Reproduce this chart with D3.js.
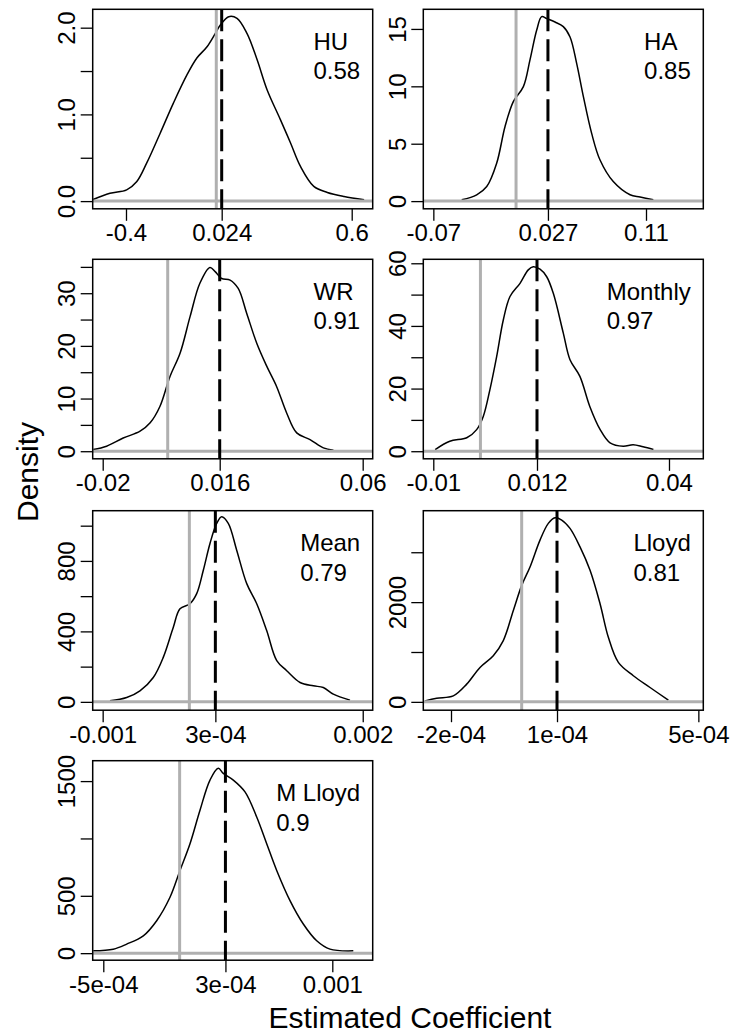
<!DOCTYPE html>
<html>
<head>
<meta charset="utf-8">
<script src="https://cdn.jsdelivr.net/npm/d3@7"></script>
<style>
  body { margin: 0; background: #fff; }
  text { font-family: "Liberation Sans", Arial, sans-serif; fill: #000; }
</style>
</head>
<body>
<div id="chart"></div>
<script>
// panel labels and scores
var panelNames = ["HU", "HA", "WR", "Monthly", "Mean", "Lloyd", "M Lloyd"];
var panelScores = ["0.58", "0.85", "0.91", "0.97", "0.79", "0.81", "0.9"];
var estimates = [0.024, 0.027, 0.016, 0.012, 3e-4, 1e-4, 3e-4];

// tick values + labels (as printed by R)
var xTickValues = [[-0.4, 0.024, 0.6], [-0.07, 0.027, 0.11], [-0.02, 0.016, 0.06], [-0.01, 0.012, 0.04],
                   [-0.001, 3e-4, 0.002], [-2e-4, 1e-4, 5e-4], [-5e-4, 3e-4, 0.001]];
var xTickLabels = [["-0.4", "0.024", "0.6"], ["-0.07", "0.027", "0.11"], ["-0.02", "0.016", "0.06"], ["-0.01", "0.012", "0.04"],
                   ["-0.001", "3e-04", "0.002"], ["-2e-04", "1e-04", "5e-04"], ["-5e-04", "3e-04", "0.001"]];
var yTickValues = [[0, 0.5, 1, 1.5, 2], [0, 5, 10, 15], [0, 5, 10, 15, 20, 25, 30, 35], [0, 10, 20, 30, 40, 50, 60],
                   [0, 200, 400, 600, 800, 1000], [0, 1000, 2000, 3000], [0, 500, 1000, 1500]];
var yTickLabels = [["0.0", "", "1.0", "", "2.0"], ["0", "5", "10", "15"], ["0", "", "10", "", "20", "", "30", ""],
                   ["0", "", "20", "", "40", "", "60"], ["0", "", "400", "", "800", ""], ["0", "", "2000", ""],
                   ["0", "500", "", "1500"]];

// density curves
var huX = [-0.548, -0.471, -0.397, -0.352, -0.308, -0.249, -0.19, -0.13, -0.086, -0.041, -0.004, 0.018, 0.055, 0.092, 0.136, 0.181, 0.225, 0.284, 0.329, 0.373, 0.432, 0.492, 0.566, 0.655];
var huY = [0.015, 0.09, 0.13, 0.226, 0.44, 0.78, 1.13, 1.455, 1.65, 1.78, 1.935, 2.03, 2.127, 2.108, 1.935, 1.63, 1.285, 0.94, 0.67, 0.40, 0.17, 0.10, 0.053, 0.015];

var haX = [-0.046, -0.0333, -0.0248, -0.0164, -0.0093, -0.0023, 0.0062, 0.0118, 0.0175, 0.0217, 0.026, 0.033, 0.040, 0.0457, 0.0513, 0.057, 0.064, 0.071, 0.0823, 0.0965, 0.105, 0.1162];
var haY = [0.11, 0.55, 1.27, 3.3, 6.5, 8.67, 9.97, 12.3, 14.9, 16.07, 15.9, 15.6, 15.2, 14.3, 12.0, 9.1, 5.9, 3.6, 1.7, 0.55, 0.35, 0.11];

var wrX = [-0.0229, -0.0188, -0.0137, -0.0085, -0.0054, -0.0024, 0.0007, 0.0038, 0.0069, 0.0099, 0.013, 0.0146, 0.0166, 0.0192, 0.0217, 0.0243, 0.0274, 0.0305, 0.0335, 0.0366, 0.0397, 0.0438, 0.0479, 0.051];
var wrY = [0.32, 0.95, 2.5, 3.8, 5.4, 8.5, 14.2, 18.6, 25.6, 31.9, 34.9, 34.1, 32.8, 32.5, 30.9, 26.2, 20.5, 16.1, 12.3, 7.27, 3.48, 2.2, 0.64, 0.2];

var monthlyX = [-0.0096, -0.0065, -0.0029, -0.0008, 0.0006, 0.002, 0.00345, 0.00485, 0.00627, 0.0084, 0.01015, 0.0112, 0.01264, 0.01406, 0.01546, 0.01758, 0.019, 0.0211, 0.0232, 0.0254, 0.0275, 0.0303, 0.0324, 0.0345, 0.0367];
var monthlyY = [0.54, 3.2, 4.3, 6.9, 11.1, 19.6, 30.3, 41.9, 49.4, 53.6, 57.9, 58.9, 58.1, 55.7, 50.4, 37.7, 29.2, 23.9, 14.3, 6.9, 2.67, 1.6, 2.1, 1.4, 0.54];

var meanX = [-0.000916, -0.000723, -0.00057, -0.000416, -0.000301, -0.000185, -0.000108, 0.0000073, 0.0000846, 0.000161, 0.000238, 0.000315, 0.000373, 0.000449, 0.000546, 0.000662, 0.000777, 0.000892, 0.001008, 0.001123, 0.001277, 0.00143, 0.001545, 0.001661, 0.001853];
var meanY = [5.7, 24.5, 62.7, 138.6, 252.6, 423.7, 528.5, 557, 614, 747, 899, 1013, 1051, 1013, 861, 671, 557, 405, 234, 177, 110, 91, 81.5, 43.9, 9.7];

var lloydX = [-0.0002736, -0.0002405, -0.0001935, -0.0001556, -0.0001179, -0.0000803, -0.000052, -0.0000236, 0.0000001, 0.0000236, 0.0000519, 0.0000754, 0.0000944, 0.0001133, 0.0001368, 0.0001651, 0.0001935, 0.0002218, 0.0002453, 0.0002736, 0.000316, 0.0003633, 0.0004151];
var lloydY = [20, 74, 121, 356, 691, 926, 1229, 1833, 2336, 2705, 3243, 3579, 3692, 3646, 3478, 3108, 2638, 1968, 1295, 792, 524, 288, 34];

var mLloydX = [-0.0005655, -0.0004345, -0.0003467, -0.000238, -0.0001502, -0.0000631, 0.0000024, 0.0000679, 0.0001334, 0.0001989, 0.0002533, 0.000286, 0.0003515, 0.0004282, 0.0005048, 0.0005703, 0.0006358, 0.0007229, 0.00081, 0.0008978, 0.0009849, 0.0011376];
var mLloydY = [20, 35, 79, 151, 283, 487, 721, 954, 1246, 1509, 1611, 1567, 1509, 1406, 1187, 954, 721, 458, 254, 108, 35, 20];

var curvesX = [huX, haX, wrX, monthlyX, meanX, lloydX, mLloydX];
var curvesY = [huY, haY, wrY, monthlyY, meanY, lloydY, mLloydY];

// axis ranges of each panel (R adds 4% around the data)
var xDomains = [[-0.5475, 0.693], [-0.0785, 0.1585], [-0.02308, 0.06308], [-0.01212, 0.04728],
                [-0.001115, 0.002115], [-2.784e-4, 5.14e-4], [-5.694e-4, 1.2646e-3]];
var yDomains = [[-0.0887, 2.212], [-0.67, 16.71], [-1.44, 36.44], [-2.42, 61.27],
                [-47.3, 1085], [-167, 3833], [-61.3, 1677.8]];

var W = 730, H = 1036;
var boxW = 280, boxH = 199.5;
var colLeft = [92.7, 423.3];
var rowTop = [9.3, 259.3, 510.7, 760.7];
var gray = "#b0b0b0";

var svg = d3.select("#chart").append("svg")
    .attr("width", W)
    .attr("height", H)
    .style("background", "#fff");

function drawPanel(i) {
    var left = colLeft[i % 2];
    var top = rowTop[Math.floor(i / 2)];
    var g = svg.append("g").attr("transform", `translate(${left},${top})`);

    var x = d3.scaleLinear().domain(xDomains[i]).range([0, boxW]);
    var y = d3.scaleLinear().domain(yDomains[i]).range([boxH, 0]);

    var pts = curvesX[i].map(function(d, j) { return [d, curvesY[i][j]]; });
    var line = d3.line()
        .x(function(d) { return x(d[0]); })
        .y(function(d) { return y(d[1]); })
        .curve(d3.curveCatmullRom.alpha(0.5));

    g.append("path")
        .datum(pts)
        .attr("d", line)
        .attr("fill", "none")
        .attr("stroke", "#000")
        .attr("stroke-width", 1.5);

    // zero lines
    g.append("line")
        .attr("x1", 0).attr("x2", boxW)
        .attr("y1", y(0)).attr("y2", y(0))
        .attr("stroke", gray).attr("stroke-width", 3);
    g.append("line")
        .attr("x1", x(0)).attr("x2", x(0))
        .attr("y1", 0).attr("y2", boxH)
        .attr("stroke", gray).attr("stroke-width", 3);

    // estimate
    g.append("line")
        .attr("x1", x(estimates[i])).attr("x2", x(estimates[i]))
        .attr("y1", 0).attr("y2", boxH)
        .attr("stroke", "#000").attr("stroke-width", 3)
        .attr("stroke-dasharray", "22,8");

    g.append("rect")
        .attr("width", boxW).attr("height", boxH)
        .attr("fill", "none").attr("stroke", "#000").attr("stroke-width", 1.5);

    var xAxis = d3.axisBottom(x)
        .tickValues(xTickValues[i])
        .tickFormat(function(d) { return xTickLabels[i][xTickValues[i].indexOf(d)]; })
        .tickSize(12)
        .tickPadding(3.5);
    var gx = g.append("g").attr("transform", `translate(0,${boxH})`).call(xAxis);
    gx.select(".domain").remove();
    gx.selectAll("line").attr("stroke", "#000").attr("stroke-width", 1.3);
    gx.selectAll("text").attr("font-size", 24).attr("font-family", null).attr("fill", "#000");
    gx.attr("font-family", null).attr("font-size", null);

    var yAxis = d3.axisLeft(y)
        .tickValues(yTickValues[i])
        .tickFormat(function(d) { return yTickLabels[i][yTickValues[i].indexOf(d)]; })
        .tickSize(12);
    var gy = g.append("g").call(yAxis);
    gy.select(".domain").remove();
    gy.attr("font-family", null).attr("font-size", null);
    gy.selectAll("line").attr("stroke", "#000").attr("stroke-width", 1.3);
    gy.selectAll("text")
        .attr("x", null).attr("dy", null)
        .attr("text-anchor", "middle")
        .attr("transform", "translate(-17.7,0) rotate(-90)")
        .attr("font-size", 24)
        .attr("fill", "#000");

    // legend in the top right corner
    var lab = g.append("g");
    var t1 = lab.append("text").attr("y", 40.5).attr("font-size", 24).text(panelNames[i]);
    var t2 = lab.append("text").attr("y", 70).attr("font-size", 24).text(panelScores[i]);
    var w = Math.max(t1.node().getComputedTextLength(), t2.node().getComputedTextLength());
    lab.attr("transform", `translate(${boxW - 12.5 - w},0)`);
}

for (var i = 0; i < panelNames.length; i++) drawPanel(i);

// outer axis titles
svg.append("text")
    .attr("x", 410)
    .attr("y", 1028)
    .attr("text-anchor", "middle")
    .attr("font-size", 30)
    .text("Estimated Coefficient");

svg.append("text")
    .attr("transform", "translate(38,472) rotate(-90)")
    .attr("text-anchor", "middle")
    .attr("font-size", 30)
    .text("Density");
</script>
</body>
</html>
